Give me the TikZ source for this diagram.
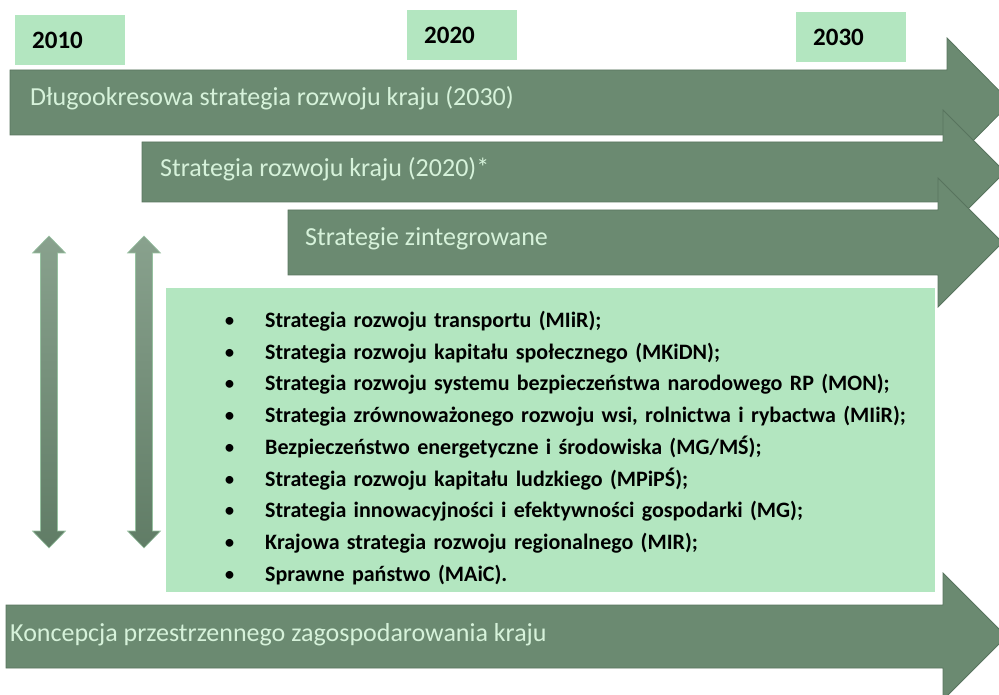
\documentclass[tikz,border=0pt]{standalone}
\usepackage{fontspec}
\setmainfont{Carlito}
\usepackage{enumitem}
\usepackage{tikz}
\usetikzlibrary{shapes,arrows}

\definecolor{pasek}{RGB}{107,138,113}
\definecolor{obrys}{RGB}{88,116,94}
\definecolor{jasny}{RGB}{179,230,192}
\definecolor{napis}{RGB}{214,242,218}

\begin{document}
\begin{tikzpicture}[x=1pt,y=-1pt,
    year_box/.style ={rectangle, fill=jasny, anchor=north west,
      minimum width=110pt, minimum height=50pt, inner xsep=17pt,
      text width=76pt, align=left, font=\fontsize{25}{28}\selectfont\bfseries},
    band_arrow/.style ={fill=pasek, draw=obrys, line width=0.8pt},
    band_text/.style ={anchor=base west, text=napis, inner sep=0pt,
      font=\fontsize{26}{30}\selectfont},
    list_box/.style ={rectangle, fill=jasny, anchor=north west,
      minimum width=769pt, minimum height=304pt, inner sep=0pt,
      text width=769pt, align=left, font=\fontsize{22}{31.7}\selectfont\bfseries},
    double_arrow/.style ={top color=pasek!80!white, bottom color=pasek!90!black,
      draw=jasny!60!pasek, line width=0.6pt}]
    \useasboundingbox (0,0) rectangle (999,695);
    % years
    \node[year_box] (y2010) at (15,15) {2010};
    \node[year_box] (y2020) at (407,10) {2020};
    \node[year_box] (y2030) at (796,12) {2030};
    % long strategy arrows
    \filldraw[band_arrow] (10,70) -- (947,70) -- (947,38) -- (1011,102.5)
      -- (947,167) -- (947,135) -- (10,135) -- cycle;
    \node[band_text] (dlugo) at (30,106) {Długookresowa strategia rozwoju kraju (2030)};
    \filldraw[band_arrow] (142,142) -- (943,142) -- (943,110) -- (1005,172)
      -- (943,234) -- (943,202) -- (142,202) -- cycle;
    \node[band_text] (srk) at (160,177) {Strategia rozwoju kraju (2020)*};
    \filldraw[band_arrow] (288,210) -- (938,210) -- (938,178) -- (1002.5,242.5)
      -- (938,307) -- (938,275) -- (288,275) -- cycle;
    \node[band_text] (zintegr) at (305,246) {Strategie zintegrowane};
    % list of strategies
    \node[list_box] (lista) at (166,288) {\begin{itemize}[nosep, leftmargin=99pt, labelsep=30pt]
      \item Strategia rozwoju transportu (MIiR);
      \item Strategia rozwoju kapitału społecznego (MKiDN);
      \item Strategia rozwoju systemu bezpieczeństwa narodowego RP (MON);
      \item Strategia zrównoważonego rozwoju wsi, rolnictwa i rybactwa (MIiR);
      \item Bezpieczeństwo energetyczne i środowiska (MG/MŚ);
      \item Strategia rozwoju kapitału ludzkiego (MPiPŚ);
      \item Strategia innowacyjności i efektywności gospodarki (MG);
      \item Krajowa strategia rozwoju regionalnego (MIR);
      \item Sprawne państwo (MAiC).
    \end{itemize}};
    % two-way arrows
    \shade[double_arrow] (49,236) -- (65.5,253) -- (57.5,253) -- (57.5,531) -- (65.5,531)
      -- (49,548) -- (32.5,531) -- (40.5,531) -- (40.5,253) -- (32.5,253) -- cycle;
    \shade[double_arrow] (144,236) -- (160.5,253) -- (152.5,253) -- (152.5,531) -- (160.5,531)
      -- (144,548) -- (127.5,531) -- (135.5,531) -- (135.5,253) -- (127.5,253) -- cycle;
    % spatial concept
    \filldraw[band_arrow] (6,605) -- (943,605) -- (943,573) -- (1006.5,636.5)
      -- (943,700) -- (943,668) -- (6,668) -- cycle;
    \node[band_text] (kpzk) at (10,641) {Koncepcja przestrzennego zagospodarowania kraju};
\end{tikzpicture}
\end{document}
